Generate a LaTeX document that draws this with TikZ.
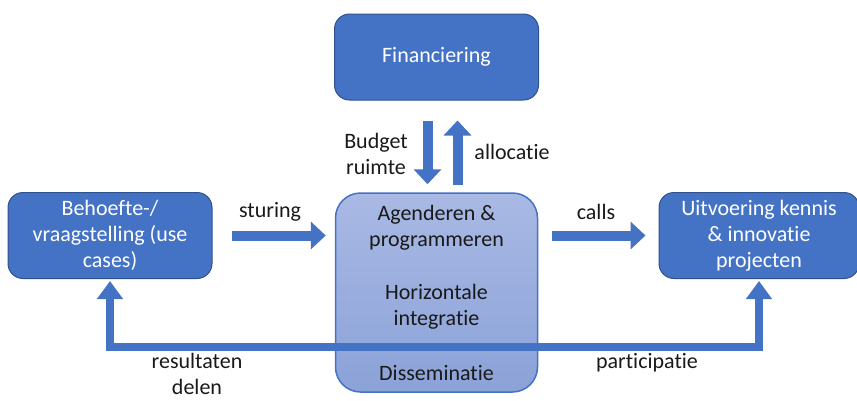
\documentclass[tikz,border=0pt]{standalone}
\usepackage{fontspec}
\setmainfont{Carlito}[RawFeature={-liga}]
\usetikzlibrary{arrows.meta}

\definecolor{blauw}{HTML}{4472C4}
\definecolor{randblauw}{HTML}{2F528F}
\definecolor{lichtblauw}{HTML}{A9B9E4}
\definecolor{middelblauw}{HTML}{8BA2D8}

\tikzset{
  blok/.style={rectangle, rounded corners=15pt, fill=blauw, draw=randblauw, line width=1pt,
    text=white, minimum width=204pt, minimum height=86pt, align=center,
    font=\fontsize{22}{26}\selectfont},
  kern/.style={rectangle, rounded corners=25pt, top color=lichtblauw, bottom color=middelblauw,
    draw=blauw, line width=1.5pt, minimum width=202pt, minimum height=199pt},
  kerntekst/.style={align=center, text=black!90, font=\fontsize{22}{26}\selectfont},
  bijschrift/.style={align=center, text=black!90, font=\fontsize{22}{26}\selectfont},
  pijl/.style={draw=blauw, line width=10pt, -{Triangle[width=27pt, length=15pt]}},
  terug/.style={draw=blauw, line width=8pt, miter limit=20,
    {Triangle[width=25pt, length=18pt]}-{Triangle[width=25pt, length=18pt]}}
}

\begin{document}
\begin{tikzpicture}[x=1pt, y=-1pt]
            \useasboundingbox (0,0) rectangle (857,400);

            % Boxes
            \node[blok] (financiering) at (436.5,57) {Financiering};
            \node[blok] (behoefte) at (110,235.5) {Behoefte-/\\vraagstelling (use\\cases)};
            \node[blok, minimum width=200pt] (uitvoering) at (759,235.5) {Uitvoering kennis\\\& innovatie\\projecten};
            \node[kern] (kern) at (436.5,292.5) {};

            % Texts in the central box
            \node[kerntekst] (agenderen) at (436.5,228) {Agenderen \&\\programmeren};
            \node[kerntekst] (integratie) at (436.5,307) {Horizontale\\integratie};
            \node[kerntekst] (disseminatie) at (436.5,373) {Disseminatie};

            % Block arrows
            \draw[pijl, shorten <=19pt, shorten >=9pt] (behoefte.east) -- (behoefte.east -| kern.west);
            \draw[pijl, shorten <=14pt, shorten >=13pt] (uitvoering.west -| kern.east) -- (uitvoering.west);
            \draw[pijl, shorten <=20pt, shorten >=8pt] ([xshift=-9pt]financiering.south) -- ([xshift=-9pt]financiering.south |- kern.north);
            \draw[pijl, shorten <=7pt, shorten >=20pt] ([xshift=21pt]financiering.south |- kern.north) -- ([xshift=21pt]financiering.south);

            % Feedback line under the boxes
            \coordinate (retour) at (436,346.5);
            \draw[terug, shorten <=2pt, shorten >=2pt] (behoefte.south) |- (retour) -| (uitvoering.south);

            % Labels
            \node[bijschrift] (sturing) at (270,212) {sturing};
            \node[bijschrift] (calls) at (596,212) {calls};
            \node[bijschrift] (budget) at (376,154) {Budget\\ruimte};
            \node[bijschrift] (allocatie) at (512,152) {allocatie};
            \node[bijschrift] (resultaten) at (197,374) {resultaten\\delen};
            \node[bijschrift] (participatie) at (647,363) {participatie};
        \end{tikzpicture}
\end{document}
